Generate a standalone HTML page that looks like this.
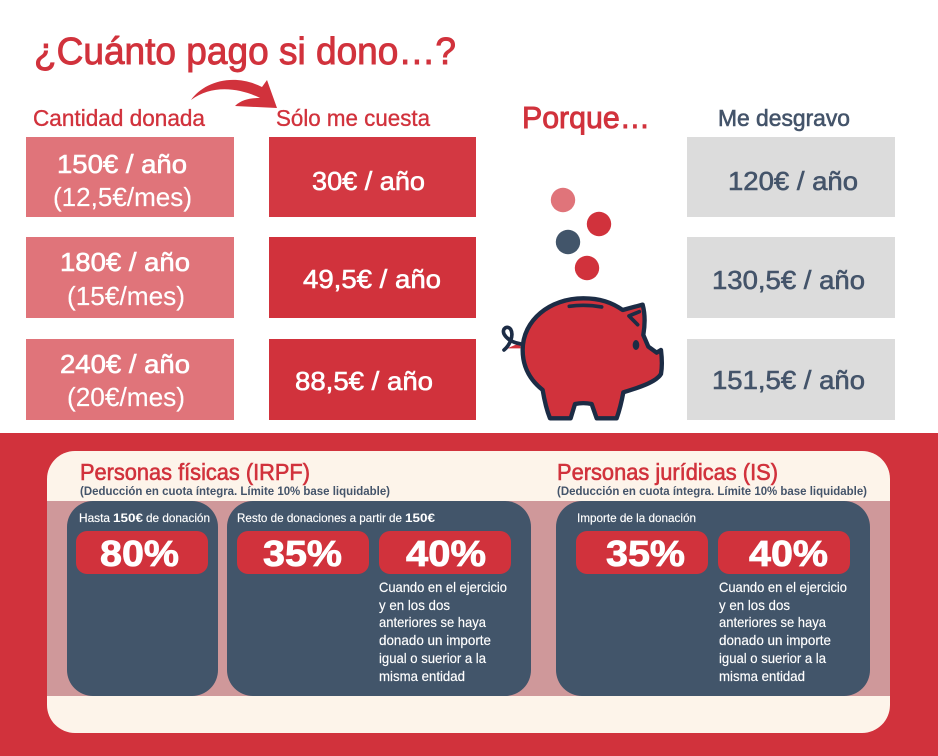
<!DOCTYPE html>
<html lang="es">
<head>
<meta charset="utf-8">
<title>¿Cuánto pago si dono…?</title>
<style>
html,body{margin:0;padding:0;background:#fff}
svg{display:block}
text{font-family:"Liberation Sans","DejaVu Sans",sans-serif}
.r{fill:#d1323c;stroke:#d1323c}.w{fill:#fff;stroke:#fff}.g{fill:#44546a;stroke:#44546a}
text{stroke-width:.35px}
.h{stroke-width:.9px}
.m{stroke-width:.6px}
.s{stroke-width:.15px}
.b{font-weight:700;stroke-width:0}
</style>
</head>
<body>
<svg width="938" height="756" viewBox="0 0 938 756" xmlns="http://www.w3.org/2000/svg">
<rect width="938" height="756" fill="#fff"/>
<text x="34" y="64" class="r h" font-size="38" textLength="422" lengthAdjust="spacingAndGlyphs">¿Cuánto pago si dono…?</text>
<path d="M191 100C203 83 232 72 262 87L267 80L277 108L235 106C242 99 252 98 260 98C240 88 212 84 191 100Z" fill="#d1323c"/>
<text x="33" y="126" class="r" font-size="23" textLength="172" lengthAdjust="spacingAndGlyphs">Cantidad donada</text>
<text x="276" y="126" class="r" font-size="23" textLength="154" lengthAdjust="spacingAndGlyphs">Sólo me cuesta</text>
<text x="522" y="128" class="r h" font-size="31" textLength="128" lengthAdjust="spacingAndGlyphs">Porque…</text>
<text x="718" y="126" class="g m" font-size="23" textLength="132" lengthAdjust="spacingAndGlyphs">Me desgravo</text>

<g>
<rect x="26" y="137" width="208" height="80" fill="#e0747a"/>
<rect x="26" y="237" width="208" height="81" fill="#e0747a"/>
<rect x="26" y="339" width="208" height="81" fill="#e0747a"/>
<text x="57" y="173" class="w m" font-size="26" textLength="130" lengthAdjust="spacingAndGlyphs">150€ / año</text>
<text x="53" y="206" class="w s" font-size="26" textLength="139" lengthAdjust="spacingAndGlyphs">(12,5€/mes)</text>
<text x="60" y="271" class="w m" font-size="26" textLength="130" lengthAdjust="spacingAndGlyphs">180€ / año</text>
<text x="67" y="305" class="w s" font-size="26" textLength="118" lengthAdjust="spacingAndGlyphs">(15€/mes)</text>
<text x="60" y="373" class="w m" font-size="26" textLength="130" lengthAdjust="spacingAndGlyphs">240€ / año</text>
<text x="67" y="406" class="w s" font-size="26" textLength="118" lengthAdjust="spacingAndGlyphs">(20€/mes)</text>
</g>

<g>
<rect x="269" y="137" width="207" height="80" fill="#d33842"/>
<rect x="269" y="237" width="207" height="81" fill="#d1323c"/>
<rect x="269" y="339" width="207" height="81" fill="#d1323c"/>
<text x="312" y="190" class="w m" font-size="26" textLength="113" lengthAdjust="spacingAndGlyphs">30€ / año</text>
<text x="303" y="288" class="w m" font-size="26" textLength="138" lengthAdjust="spacingAndGlyphs">49,5€ / año</text>
<text x="295" y="390" class="w m" font-size="26" textLength="138" lengthAdjust="spacingAndGlyphs">88,5€ / año</text>
</g>

<g>
<rect x="687" y="137" width="208" height="80" fill="#dcdcdc"/>
<rect x="687" y="237" width="208" height="81" fill="#dcdcdc"/>
<rect x="687" y="339" width="208" height="81" fill="#dcdcdc"/>
<text x="728" y="190" class="g m" font-size="26" textLength="130" lengthAdjust="spacingAndGlyphs">120€ / año</text>
<text x="712" y="289" class="g m" font-size="26" textLength="153" lengthAdjust="spacingAndGlyphs">130,5€ / año</text>
<text x="712" y="389" class="g m" font-size="26" textLength="153" lengthAdjust="spacingAndGlyphs">151,5€ / año</text>
</g>

<g>
<circle cx="563" cy="200" r="12.2" fill="#e0747a"/>
<circle cx="599" cy="224" r="12.2" fill="#d1323c"/>
<circle cx="568" cy="242" r="12.2" fill="#42556a"/>
<circle cx="587" cy="268" r="12.2" fill="#d1323c"/>
<g transform="translate(500,170) scale(.3333)" stroke="#1c2c45" stroke-linejoin="round" stroke-linecap="round">
<path d="M22 535L62 518V535Z" fill="#d1323c" stroke="none"/>
<path d="M62 522C40 518 22 510 12 492C5 475 22 465 32 478C42 495 30 525 12 540" fill="none" stroke-width="11"/>
<path d="M68 540C68 450 150 385 250 385C300 385 335 397 368 420L428 404C435 430 435 465 430 495L445 530L470 548L483 540C486 565 487 590 483 612C470 635 420 652 370 667C365 695 358 722 350 745H290L275 702C260 699 240 699 225 702L212 745H150C140 720 133 690 128 660C90 630 68 590 68 540Z" fill="#d1323c" stroke-width="13"/>
<path d="M208 409Q255 402 305 411" fill="none" stroke-width="11"/>
<path d="M418 425L387 438L413 464" fill="none" stroke-width="11"/>
<ellipse cx="408" cy="525" rx="10" ry="15" fill="#1c2c45" stroke="none"/>
</g>
</g>

<rect x="0" y="433" width="938" height="323" fill="#d1323c"/>
<rect x="47" y="451" width="843" height="282" rx="28" fill="#fdf4ea"/>
<rect x="47" y="501" width="843" height="195" fill="#cf989a"/>

<text x="80" y="480" class="r m" font-size="23" textLength="230" lengthAdjust="spacingAndGlyphs">Personas físicas (IRPF)</text>
<text x="80" y="495" class="g b" font-size="11.5" textLength="310" lengthAdjust="spacingAndGlyphs">(Deducción en cuota íntegra. Límite 10% base liquidable)</text>
<text x="557" y="480" class="r m" font-size="23" textLength="221" lengthAdjust="spacingAndGlyphs">Personas jurídicas (IS)</text>
<text x="557" y="495" class="g b" font-size="11.5" textLength="310" lengthAdjust="spacingAndGlyphs">(Deducción en cuota íntegra. Límite 10% base liquidable)</text>

<rect x="67" y="501" width="151" height="195" rx="26" fill="#42556a"/>
<rect x="227" y="501" width="304" height="195" rx="26" fill="#42556a"/>
<rect x="556" y="501" width="314" height="195" rx="26" fill="#42556a"/>

<text x="79" y="522" class="w s" font-size="12" textLength="31" lengthAdjust="spacingAndGlyphs">Hasta</text>
<text x="113" y="522" class="w b" font-size="12" textLength="30" lengthAdjust="spacingAndGlyphs">150€</text>
<text x="146" y="522" class="w s" font-size="12" textLength="64" lengthAdjust="spacingAndGlyphs">de donación</text>
<text x="237" y="522" class="w s" font-size="12" textLength="165" lengthAdjust="spacingAndGlyphs">Resto de donaciones a partir de</text>
<text x="405" y="522" class="w b" font-size="12" textLength="30" lengthAdjust="spacingAndGlyphs">150€</text>
<text x="577" y="522" class="w s" font-size="12" textLength="119" lengthAdjust="spacingAndGlyphs">Importe de la donación</text>

<rect x="76" y="531" width="132" height="43" rx="11" fill="#d1323c"/>
<rect x="237" y="531" width="132" height="43" rx="11" fill="#d1323c"/>
<rect x="379" y="531" width="132" height="43" rx="11" fill="#d1323c"/>
<rect x="576" y="531" width="132" height="43" rx="11" fill="#d1323c"/>
<rect x="718" y="531" width="132" height="43" rx="11" fill="#d1323c"/>
<text x="100" y="566" class="w b" font-size="36" stroke-width="1" style="stroke-width:.8px" textLength="79" lengthAdjust="spacingAndGlyphs">80%</text>
<text x="263" y="566" class="w b" font-size="36" style="stroke-width:.8px" textLength="79" lengthAdjust="spacingAndGlyphs">35%</text>
<text x="406" y="566" class="w b" font-size="36" style="stroke-width:.8px" textLength="80" lengthAdjust="spacingAndGlyphs">40%</text>
<text x="606" y="566" class="w b" font-size="36" style="stroke-width:.8px" textLength="79" lengthAdjust="spacingAndGlyphs">35%</text>
<text x="749" y="566" class="w b" font-size="36" style="stroke-width:.8px" textLength="79" lengthAdjust="spacingAndGlyphs">40%</text>

<g font-size="14">
<text class="w s" x="379" y="592" textLength="128" lengthAdjust="spacingAndGlyphs">Cuando en el ejercicio</text>
<text class="w s" x="379" y="610" textLength="71" lengthAdjust="spacingAndGlyphs">y en los dos</text>
<text class="w s" x="379" y="627" textLength="107" lengthAdjust="spacingAndGlyphs">anteriores se haya</text>
<text class="w s" x="379" y="645" textLength="112" lengthAdjust="spacingAndGlyphs">donado un importe</text>
<text class="w s" x="379" y="663" textLength="107" lengthAdjust="spacingAndGlyphs">igual o suerior a la</text>
<text class="w s" x="379" y="681" textLength="86" lengthAdjust="spacingAndGlyphs">misma entidad</text>
</g>
<g font-size="14">
<text class="w s" x="719" y="592" textLength="128" lengthAdjust="spacingAndGlyphs">Cuando en el ejercicio</text>
<text class="w s" x="719" y="610" textLength="71" lengthAdjust="spacingAndGlyphs">y en los dos</text>
<text class="w s" x="719" y="627" textLength="107" lengthAdjust="spacingAndGlyphs">anteriores se haya</text>
<text class="w s" x="719" y="645" textLength="112" lengthAdjust="spacingAndGlyphs">donado un importe</text>
<text class="w s" x="719" y="663" textLength="107" lengthAdjust="spacingAndGlyphs">igual o suerior a la</text>
<text class="w s" x="719" y="681" textLength="86" lengthAdjust="spacingAndGlyphs">misma entidad</text>
</g>
</svg>
</body>
</html>
